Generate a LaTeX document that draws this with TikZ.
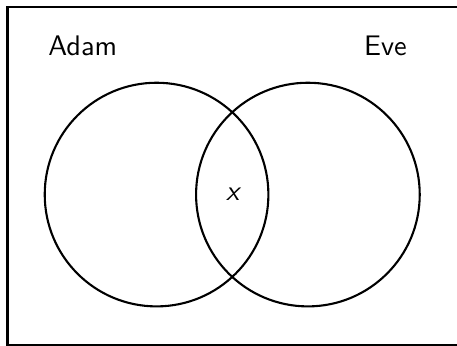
\documentclass[tikz,border=0pt]{standalone}
\begin{document}
\begin{tikzpicture}[
  every node/.style={font=\sffamily\fontsize{10.8}{13}\selectfont},
  setline/.style={line width=0.8pt},
  setcircle/.style={shape=circle, minimum size=3cm, inner sep=0pt, setline, draw},
]
\useasboundingbox (-2.10,-2.02) rectangle (4.03,2.61);
\draw[setline] (-2,-2.02) rectangle (4.5,2.51);
\node[setcircle] (A) at (0,0) {};
\node[setcircle] (E) at (2.03,0) {};
\node[anchor=base] (adam) at (-0.99,1.87) {Adam};
\node[anchor=base] (eve) at (3.07,1.87) {Eve};
\node (x) at (1.02,0) {\itshape x};
\end{tikzpicture}
\end{document}
